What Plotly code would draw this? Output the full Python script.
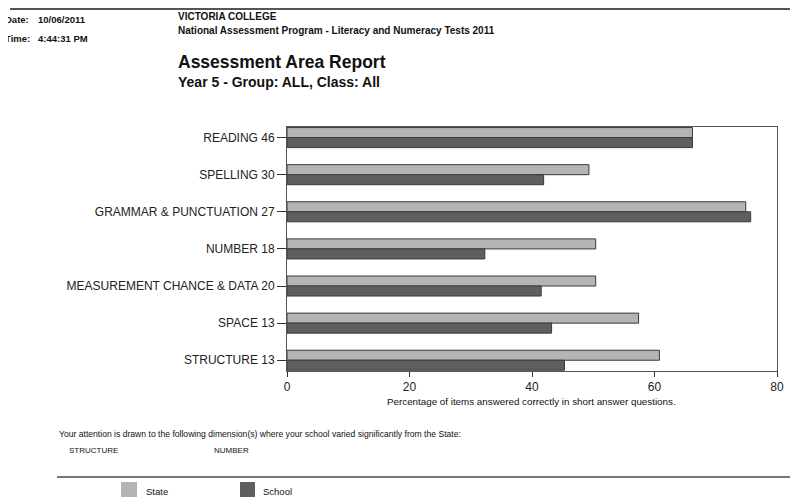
import plotly.graph_objects as go

categories = ["READING 46", "SPELLING 30", "GRAMMAR & PUNCTUATION 27", "NUMBER 18",
              "MEASUREMENT CHANCE & DATA 20", "SPACE 13", "STRUCTURE 13"]
state = [66.2, 49.3, 74.9, 50.4, 50.4, 57.4, 60.8]
school = [66.2, 41.9, 75.7, 32.3, 41.5, 43.2, 45.3]
x_ticks = [0, 20, 40, 60, 80]
flagged = ["STRUCTURE", "NUMBER"]

STATE_C = "#b4b4b4"
SCHOOL_C = "#5f5f5f"
FONT = "Liberation Sans, Arial, sans-serif"

OFF = 8  # page body margin
W, H = 798 - OFF, 497 - OFF
L, R, T, B = 287 - OFF, 21, 127 - OFF, 126
PW, PH = W - L - R, H - T - B


def px(x):  # page pixel -> paper
    return (x - OFF - L) / PW


def py(y):
    return (H - B - (y - OFF)) / PH


fig = go.Figure()
fig.add_trace(go.Bar(y=categories, x=state, orientation="h", name="State",
                     marker=dict(color=STATE_C, line=dict(color="#3a3a3a", width=1))))
fig.add_trace(go.Bar(y=categories, x=school, orientation="h", name="School",
                     marker=dict(color=SCHOOL_C, line=dict(color="#3a3a3a", width=1))))

anns = []


def txt(x, y, s, size, bold=False, anchor="left", color="#111"):
    anns.append(dict(x=px(x), y=py(y), xref="paper", yref="paper", text=("<b>%s</b>" % s) if bold else s,
                     showarrow=False, xanchor=anchor, yanchor="middle",
                     font=dict(family=FONT, size=size, color=color)))


txt(3, 20, "Date:", 9.5, True)
txt(36, 20, "10/06/2011", 9.5, True)
txt(3, 38, "Time:", 9.5, True)
txt(36, 38, "4:44:31 PM", 9.5, True)
txt(176, 16, "VICTORIA COLLEGE", 10, True)
txt(176, 30, "National Assessment Program - Literacy and Numeracy Tests 2011", 10, True)
txt(176, 62, "Assessment Area Report", 17.5, True)
txt(176, 82, "Year 5 - Group: ALL, Class: All", 14, True)
txt(531, 401, "Percentage of items answered correctly in short answer questions.", 9.8, anchor="center")
txt(57, 434, "Your attention is drawn to the following dimension(s) where your school varied significantly from the State:", 8.6)
txt(67, 450, flagged[0], 8)
txt(212, 450, flagged[1], 8)
txt(144, 491, "State", 9.5)
txt(261, 491, "School", 9.5)

shapes = [
    dict(type="line", xref="paper", yref="paper", x0=px(10), x1=px(800), y0=py(9), y1=py(9),
         line=dict(color="#555", width=2)),
    dict(type="line", xref="paper", yref="paper", x0=px(57), x1=px(800), y0=py(477), y1=py(477),
         line=dict(color="#777", width=2)),
    dict(type="rect", xref="paper", yref="paper", x0=px(121), x1=px(137), y0=py(482), y1=py(499),
         fillcolor=STATE_C, line=dict(width=0)),
    dict(type="rect", xref="paper", yref="paper", x0=px(240), x1=px(255), y0=py(482), y1=py(499),
         fillcolor=SCHOOL_C, line=dict(width=0)),
]

fig.update_layout(
    width=W, height=H, margin=dict(l=L, r=R, t=T, b=B, pad=0),
    paper_bgcolor="white", plot_bgcolor="white",
    barmode="group", bargap=0.46, bargroupgap=0,
    showlegend=False,
    annotations=anns, shapes=shapes,
    xaxis=dict(range=[0, 80], tickvals=x_ticks, showgrid=False, zeroline=False,
               showline=True, linecolor="#555", linewidth=1, mirror=True,
               ticks="outside", ticklen=5, tickcolor="#333",
               tickfont=dict(family=FONT, size=12, color="#222")),
    yaxis=dict(range=[6.29, -0.285], showgrid=False, zeroline=False,
               showline=True, linecolor="#555", linewidth=1, mirror=True,
               ticks="outside", ticklen=9, tickcolor="#333",
               tickfont=dict(family=FONT, size=12, color="#222")),
)

fig.write_html("out.html")
